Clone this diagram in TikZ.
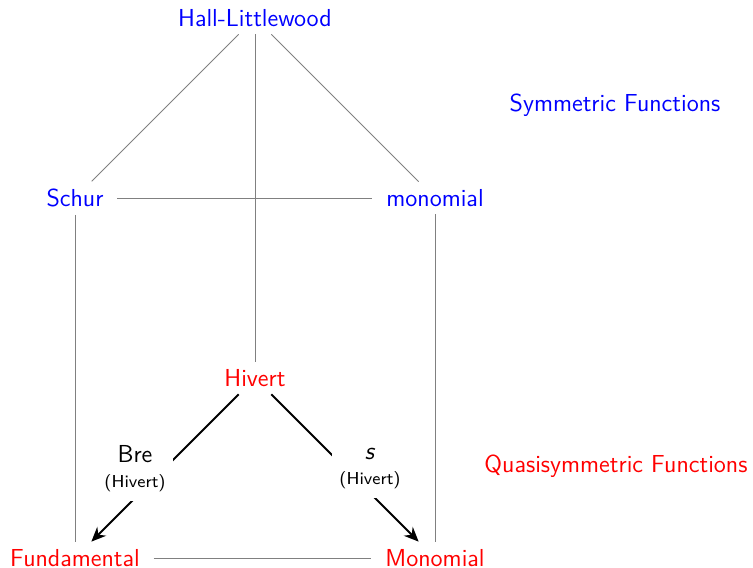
\documentclass[tikz,border=0pt]{standalone}
\usetikzlibrary{arrows.meta}
\renewcommand{\familydefault}{\sfdefault}
\begin{document}
\begin{tikzpicture}[x=0.48pt,y=-0.48pt,
  every node/.style={font=\sffamily\fontsize{11.8}{14}\selectfont},
  sym/.style={text=blue, inner xsep=6.5pt, inner ysep=3.5pt},
  qsym/.style={text=red, inner xsep=6.5pt, inner ysep=3.5pt},
  title/.style={inner sep=0pt},
  lbl/.style={fill=white, align=center, inner xsep=3.5pt, inner ysep=4pt},
  gline/.style={draw=gray, line width=0.4pt},
  arr/.style={draw=black, line width=0.9pt, -{Stealth[length=7pt,width=6pt]}}]
\useasboundingbox (0,0) rectangle (753,568);
\node[sym] (hl) at (255,18) {Hall-Littlewood};
\node[sym] (schur) at (75,198) {Schur};
\node[sym] (mono) at (435,198) {monomial};
\node[title, text=blue] (symt) at (615,105) {Symmetric Functions};
\node[qsym] (hiv) at (255,378) {Hivert};
\node[qsym] (fund) at (75,558) {Fundamental};
\node[qsym] (Mono) at (435,558) {Monomial};
\node[title, text=red] (qsymt) at (616,466) {Quasisymmetric Functions};
\path[gline] (hl) -- (schur);
\path[gline] (hl) -- (mono);
\path[gline] (hl) -- (hiv);
\path[gline] (schur) -- (mono);
\path[gline] (schur) -- (fund);
\path[gline] (mono) -- (Mono);
\path[gline] (fund) -- (Mono);
\path[arr] (hiv) -- (fund);
\path[arr] (hiv) -- (Mono);
\node[lbl] (lb1) at (135,469) {Bre\\[-2pt]{\fontsize{8.3}{10}\selectfont(Hivert)}};
\node[lbl] (lb2) at (370,469) {\textit{s}\\[-2pt]{\fontsize{8.3}{10}\selectfont(Hivert)}};
\end{tikzpicture}
\end{document}
